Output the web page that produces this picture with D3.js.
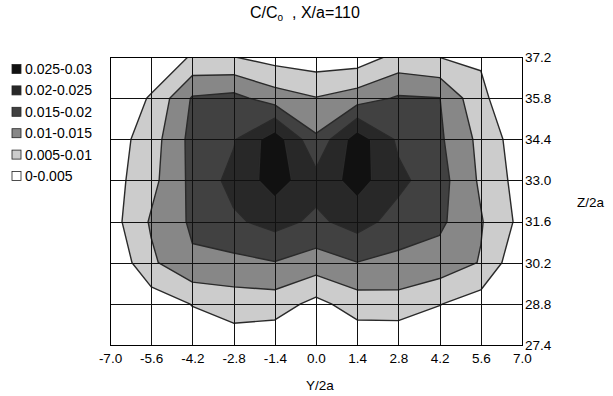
<!DOCTYPE html>
<html>
<head>
<meta charset="utf-8">
<script src="https://cdn.jsdelivr.net/npm/d3@7"></script>
<style>
  body { margin: 0; background: #fff; }
  text { font-family: "Liberation Sans", Arial, sans-serif; fill: #000; }
</style>
</head>
<body>
<svg id="chart" width="613" height="396"></svg>
<script>
// Y/2a positions (columns) and Z/2a positions (rows, top to bottom)
var yPos = [-7.0, -5.6, -4.2, -2.8, -1.4, 0.0, 1.4, 2.8, 4.2, 5.6, 7.0];
var zPos = [37.2, 35.8, 34.4, 33.0, 31.6, 30.2, 28.8, 27.4];

// C/Co read at every grid node, one row per Z/2a
var conc372 = [0.0005, 0.001, 0.0055, 0.0051, 0.003, 0.002, 0.0022, 0.0065, 0.0049, 0.0045, 0.001];
var conc358 = [0.001, 0.0055, 0.0155, 0.0165, 0.0125, 0.0102, 0.0125, 0.0156, 0.0151, 0.006, 0.001];
var conc344 = [0.0022, 0.0077, 0.0166, 0.0195, 0.0279, 0.0158, 0.0279, 0.019, 0.0158, 0.0086, 0.0019];
var conc330 = [0.0028, 0.0085, 0.0163, 0.0216, 0.0272, 0.0218, 0.027, 0.0213, 0.0169, 0.0092, 0.0028];
var conc316 = [0.0027, 0.0106, 0.0158, 0.0192, 0.0217, 0.019, 0.022, 0.018, 0.016, 0.0104, 0.0035];
var conc302 = [0.0003, 0.0091, 0.0143, 0.0137, 0.0148, 0.0128, 0.0149, 0.0137, 0.013, 0.0097, 0.0005];
var conc288 = [0.0003, 0.0021, 0.0052, 0.0074, 0.0075, 0.0035, 0.0075, 0.0081, 0.0052, 0.0026, 0.0005];
var conc274 = [0.0002, 0.0005, 0.002, 0.0023, 0.0011, 0.002, 0.0011, 0.0005, 0.0005, 0.0003, 0.0002];

// contour bands
var levels = [0, 0.005, 0.01, 0.015, 0.02, 0.025];
var bandLabels = ['0-0.005', '0.005-0.01', '0.01-0.015', '0.015-0.02', '0.02-0.025', '0.025-0.03'];
var bandColors = ['#ffffff', '#cccccc', '#878787', '#414141', '#282828', '#111111'];

var svg = d3.select('#chart');
var plotL = 110, plotR = 522, plotT = 57, plotB = 345;

var x = d3.scaleLinear().domain([-7, 7]).range([plotL, plotR]);
var y = d3.scaleLinear().domain([27.4, 37.2]).range([plotB, plotT]);

var rows = [conc372, conc358, conc344, conc330, conc316, conc302, conc288, conc274];
var nx = yPos.length, ny = zPos.length;
var values = [];
rows.forEach(function (r) { values = values.concat(r); });

// contour grid coords -> data coords -> pixels
var gx = d3.scaleLinear().domain([0.5, nx - 0.5]).range([x(yPos[0]), x(yPos[nx - 1])]);
var gy = d3.scaleLinear().domain([0.5, ny - 0.5]).range([y(zPos[0]), y(zPos[ny - 1])]);
var path = d3.geoPath(d3.geoTransform({
  point: function (px, py) { this.stream.point(gx(px), gy(py)); }
}));

var contours = d3.contours().size([nx, ny]).thresholds(levels.slice(1))(values);

svg.append('clipPath').attr('id', 'plot-clip')
  .append('rect')
  .attr('x', plotL).attr('y', plotT)
  .attr('width', plotR - plotL).attr('height', plotB - plotT);

var plot = svg.append('g').attr('clip-path', 'url(#plot-clip)');

plot.append('rect')
  .attr('x', plotL).attr('y', plotT)
  .attr('width', plotR - plotL).attr('height', plotB - plotT)
  .attr('fill', bandColors[0]);

plot.selectAll('path.band')
  .data(contours)
  .enter()
  .append('path')
  .attr('class', 'band')
  .attr('d', path)
  .attr('fill', function (d) { return bandColors[levels.indexOf(d.value)]; })
  .attr('stroke', '#2a2a2a')
  .attr('stroke-width', 1.4)
  .attr('stroke-linejoin', 'round');

// grid + axes
var xAxis = d3.axisBottom(x)
  .tickValues(yPos)
  .tickSize(-(plotB - plotT))
  .tickPadding(8)
  .tickFormat(function (d) { return d.toFixed(1); });

var zAxis = d3.axisRight(y)
  .tickValues(zPos)
  .tickSize(-(plotR - plotL))
  .tickPadding(3)
  .tickFormat(function (d) { return d.toFixed(1); });

var gX = svg.append('g')
  .attr('transform', 'translate(0,' + plotB + ')')
  .call(xAxis);
var gZ = svg.append('g')
  .attr('transform', 'translate(' + plotR + ',0)')
  .call(zAxis);

[gX, gZ].forEach(function (g) {
  g.select('.domain').remove();
  g.selectAll('.tick line')
    .attr('stroke', '#111')
    .attr('stroke-width', 1)
    .attr('shape-rendering', 'crispEdges');
  g.selectAll('.tick text')
    .attr('fill', '#000')
    .style('font-size', '13.5px')
    .style('font-family', '"Liberation Sans", Arial, sans-serif');
});

svg.append('rect')
  .attr('x', plotL).attr('y', plotT)
  .attr('width', plotR - plotL).attr('height', plotB - plotT)
  .attr('fill', 'none')
  .attr('stroke', '#000')
  .attr('stroke-width', 1)
  .attr('shape-rendering', 'crispEdges');

// title
var title = svg.append('text')
  .attr('x', 250).attr('y', 18)
  .attr('xml:space', 'preserve')
  .style('font-size', '16px');
title.append('tspan').text('C/C');
title.append('tspan').attr('dy', 3).style('font-size', '10px').text('o');
title.append('tspan').attr('dy', -3).text('  , X/a=110');

svg.append('text')
  .attr('x', 320).attr('y', 390)
  .attr('text-anchor', 'middle')
  .style('font-size', '13.5px')
  .text('Y/2a');

svg.append('text')
  .attr('x', 577).attr('y', 207)
  .style('font-size', '13.5px')
  .text('Z/2a');

// legend, darkest first
var legendItems = d3.range(bandLabels.length).reverse();
var legend = svg.selectAll('g.legend')
  .data(legendItems)
  .enter()
  .append('g')
  .attr('class', 'legend')
  .attr('transform', function (d, i) { return 'translate(12,' + (69 + i * 21.4) + ')'; });

legend.append('rect')
  .attr('x', 0).attr('y', -4.5)
  .attr('width', 9).attr('height', 9)
  .attr('fill', function (d) { return bandColors[d]; })
  .attr('stroke', '#222')
  .attr('stroke-width', 0.8);

legend.append('text')
  .attr('x', 13).attr('dy', '0.36em')
  .style('font-size', '14px')
  .text(function (d) { return bandLabels[d]; });
</script>
</body>
</html>
